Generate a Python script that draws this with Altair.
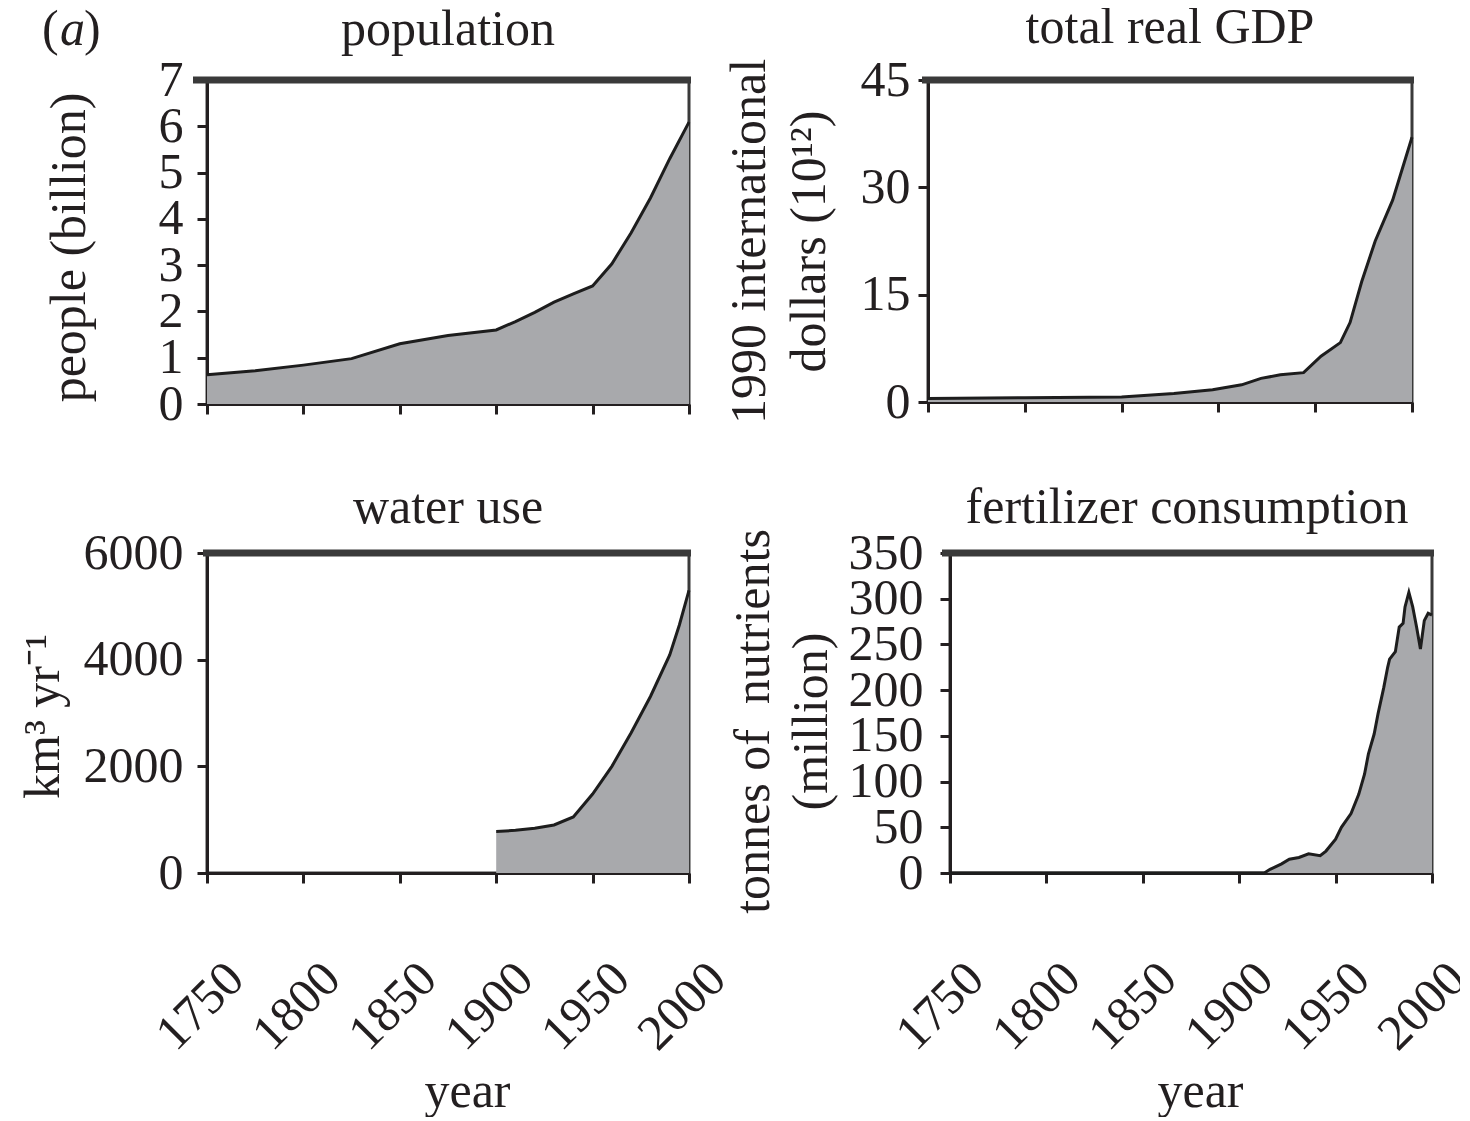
import altair as alt
import pandas as pd

FONT = "Liberation Serif"
TEXT = "#231f20"
FILL = "#a8a9ac"
LINE = "#1d1d1d"
FRAME = "#3a3a3a"
FS = 50
LFS = 50

XTICKS = [1750, 1800, 1850, 1900, 1950, 2000]

pop_years = [1750, 1775, 1800, 1825, 1850, 1875, 1900, 1910, 1920, 1930, 1940, 1950, 1960, 1970, 1980, 1990, 2000]
pop_vals = [0.63, 0.72, 0.84, 0.98, 1.30, 1.48, 1.60, 1.78, 1.98, 2.20, 2.38, 2.55, 3.03, 3.70, 4.45, 5.30, 6.09]

gdp_years = [1750, 1800, 1850, 1877, 1897, 1912, 1922, 1932, 1944, 1953, 1963, 1968, 1974, 1981, 1990, 2000]
gdp_vals = [0.5, 0.6, 0.7, 1.2, 1.7, 2.4, 3.3, 3.8, 4.1, 6.4, 8.3, 11.1, 16.8, 22.5, 28.2, 37.0]

water_years = [1900, 1910, 1920, 1930, 1940, 1950, 1960, 1970, 1980, 1990, 1995, 2000]
water_vals = [780, 800, 840, 900, 1050, 1480, 2000, 2630, 3310, 4090, 4650, 5300]

fert_years = [1750, 1900, 1913, 1916, 1922, 1926, 1931, 1936, 1942, 1945, 1950, 1953, 1958, 1962, 1965, 1967,
              1970, 1972, 1975, 1977, 1978, 1981, 1983, 1985, 1986, 1988, 1990, 1992, 1994, 1996, 1998, 2000]
fert_vals = [0, 0, 0, 4, 10, 15, 17, 21, 19, 24, 37, 50, 65, 86, 108, 130,
             152, 174, 203, 225, 234, 242, 269, 273, 291, 307, 291, 269, 245, 276, 284, 282]

pop_ticks = [0, 1, 2, 3, 4, 5, 6, 7]
gdp_ticks = [0, 15, 30, 45]
water_ticks = [0, 2000, 4000, 6000]
fert_ticks = [0, 50, 100, 150, 200, 250, 300, 350]


def one():
    return alt.Data(values=[{}])


def text_mark(t, xpos, ypos, align="left", italic=False):
    return alt.Chart(one()).mark_text(
        text=t, font=FONT, fontSize=FS, color=TEXT, align=align, baseline="alphabetic",
        fontStyle="italic" if italic else "normal"
    ).encode(x=alt.value(xpos), y=alt.value(ypos))


def spacer(xpos, top, bottom):
    return alt.Chart(one()).mark_rule(strokeOpacity=0, strokeWidth=1).encode(
        x=alt.value(xpos), y=alt.value(top), y2=alt.value(bottom))


def panel(years, vals, ymax, yticks, title, title_offset, title_dx, ytitle, ytitle_x, ytitle_dy,
          ytitle_lh, ylabel_pad, W, H, bottom, xtitle_dx, rule_left, xlabel_off=-7, extra=None):
    df = pd.DataFrame({"year": years, "value": vals})
    xkw = dict(values=XTICKS, format="d", tickSize=10, tickWidth=3, tickColor=TEXT,
               domainColor=TEXT, domainWidth=3, grid=False, labelFlush=False,
               labelOverlap=False, labelBound=False)
    if bottom:
        xkw.update(labels=True, labelAngle=315, labelAlign="center", labelBaseline="middle",
                   labelPadding=123, labelOffset=xlabel_off, labelFont=FONT, labelFontSize=LFS,
                   labelColor=TEXT, title="year", titleFont=FONT, titleFontSize=FS,
                   titleFontWeight="normal", titleColor=TEXT, titleX=W / 2 + xtitle_dx,
                   titleY=233, titleAlign="center", titleBaseline="alphabetic", titleAngle=0)
    else:
        xkw.update(labels=False, title=None)
    yaxis = alt.Axis(values=yticks, format="d", tickSize=10, tickWidth=3, tickColor=TEXT,
                     domainColor=TEXT, domainWidth=3, grid=False, labelFlush=False,
                     labelOverlap=False, labelBound=False, labelFont=FONT, labelFontSize=LFS,
                     labelColor=TEXT, labelPadding=ylabel_pad, title=ytitle, titleFont=FONT,
                     titleFontSize=FS, titleFontWeight="normal", titleColor=TEXT,
                     titleAngle=270, titleAlign="center", titleBaseline="alphabetic",
                     titleX=ytitle_x, titleY=H / 2 + ytitle_dy, titleLineHeight=ytitle_lh)
    x = alt.X("year:Q", scale=alt.Scale(domain=[1750, 2000], nice=False, zero=False),
              axis=alt.Axis(**xkw))
    y = alt.Y("value:Q", scale=alt.Scale(domain=[0, ymax], nice=False), axis=yaxis)
    area = alt.Chart(df).mark_area(
        color=FILL, opacity=1, line={"color": LINE, "strokeWidth": 3}
    ).encode(x=x, y=y)
    rule = alt.Chart(one()).mark_rule(color=FRAME, strokeWidth=7).encode(
        y=alt.datum(ymax), x=alt.value(rule_left), x2=alt.value(W + 2)
    )
    layers = [area, rule, text_mark(title, W / 2 + title_dx, -title_offset, align="center")]
    if extra:
        layers += extra
    return alt.layer(*layers).properties(width=W, height=H)


tag = [text_mark("(", -165, -35), text_mark("a", -147, -35, italic=True), text_mark(")", -123, -35)]

A = panel(pop_years, pop_vals, 7, pop_ticks, "population", 35, 0, "people (billion)",
          -123, 5, 52, 14, 482, 324, False, 0, -14,
          extra=tag + [spacer(-200, -80, 324 + 40)])
B = panel(gdp_years, gdp_vals, 45, gdp_ticks, "total real GDP", 37, 0,
          ["1990 international", "dollars (10¹²)"], -164, 0, 60, 8, 484, 322, False, 0, -6)
C = panel(water_years, water_vals, 6000, water_ticks, "water use", 30, 0, "km³ yr⁻¹",
          -149, 3, 52, 14, 482, 320, True, 19, -4,
          extra=[spacer(-200, -90, 320)])
D = panel(fert_years, fert_vals, 350, fert_ticks, "fertilizer consumption", 30, -4,
          ["tonnes of\u00a0 nutrients", "(million)"], -182, 8, 58, 17, 482, 320, True, 9, -8,
          xlabel_off=-10)

row1 = alt.hconcat(A, B, spacing=239, bounds="flush")
row2 = alt.hconcat(C, D, spacing=261, bounds="flush")
chart = alt.vconcat(row1, row2, spacing=15).properties(
    padding={"left": -3, "top": -10, "right": -17, "bottom": -1},
    background="white",
).configure_view(stroke=FRAME, strokeWidth=3)

chart.save("out.html", embed_options={"renderer": "svg", "actions": False})
